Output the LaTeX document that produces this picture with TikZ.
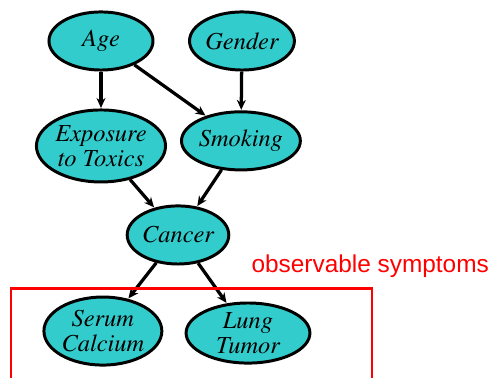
\documentclass[tikz,border=0pt]{standalone}
\usepackage{fontspec}
\setsansfont{Liberation Sans}
\usetikzlibrary{shapes.geometric,arrows.meta}
\definecolor{nodeteal}{RGB}{51,204,204}
\definecolor{symred}{RGB}{255,0,0}
\newcommand{\varfont}{\usefont{OT1}{ptm}{m}{it}\fontsize{24.5}{27}\selectfont}
\begin{document}
\begin{tikzpicture}[
  var/.style={ellipse,draw=black,line width=1.05mm,fill=nodeteal,inner sep=0pt,
    font=\varfont,align=center},
  link/.style={line width=1.15mm,-{Stealth[length=10pt,width=9pt]},shorten >=0.5pt}]
\useasboundingbox (0,0) rectangle (17.5,-13.335);
\node[var,minimum width=3.67cm,minimum height=2.05cm] (age) at (3.563,-1.446) {Age};
\node[var,minimum width=3.7cm,minimum height=2.05cm] (gender) at (8.537,-1.446) {Gender};
\node[var,minimum width=3.9cm,minimum height=2.54cm] (expo) at (3.563,-5.15) {Exposure\\[-2pt]to Toxics};
\node[var,minimum width=3.7cm,minimum height=2.05cm] (smoke) at (8.5,-4.97) {Smoking};
\node[var,minimum width=3.5cm,minimum height=2.05cm] (cancer) at (6.28,-8.29) {Cancer};
\node[var,minimum width=4.16cm,minimum height=2.4cm] (serum) at (3.63,-11.68) {Serum\\[-2pt]Calcium};
\node[var,minimum width=4.37cm,minimum height=2.12cm] (lung) at (8.75,-11.75) {Lung\\[-2pt]Tumor};
\draw[link] (age) -- (expo);
\draw[link] (age) -- (smoke);
\draw[link] (gender) -- (smoke);
\draw[link] (expo) -- (cancer);
\draw[link] (smoke) -- (cancer);
\draw[link] (cancer) -- (serum);
\draw[link] (cancer) -- (lung);
\coordinate (boxbl) at (0.39,-13.4);
\coordinate (boxtr) at (13.12,-10.18);
\draw[symred,line width=0.9mm] (boxbl) |- (boxtr) -- (boxtr |- boxbl);
\node[text=symred,font=\sffamily\fontsize{24.5}{28}\selectfont,anchor=base west] (obs) at (8.75,-9.6) {observable symptoms};
\end{tikzpicture}
\end{document}
